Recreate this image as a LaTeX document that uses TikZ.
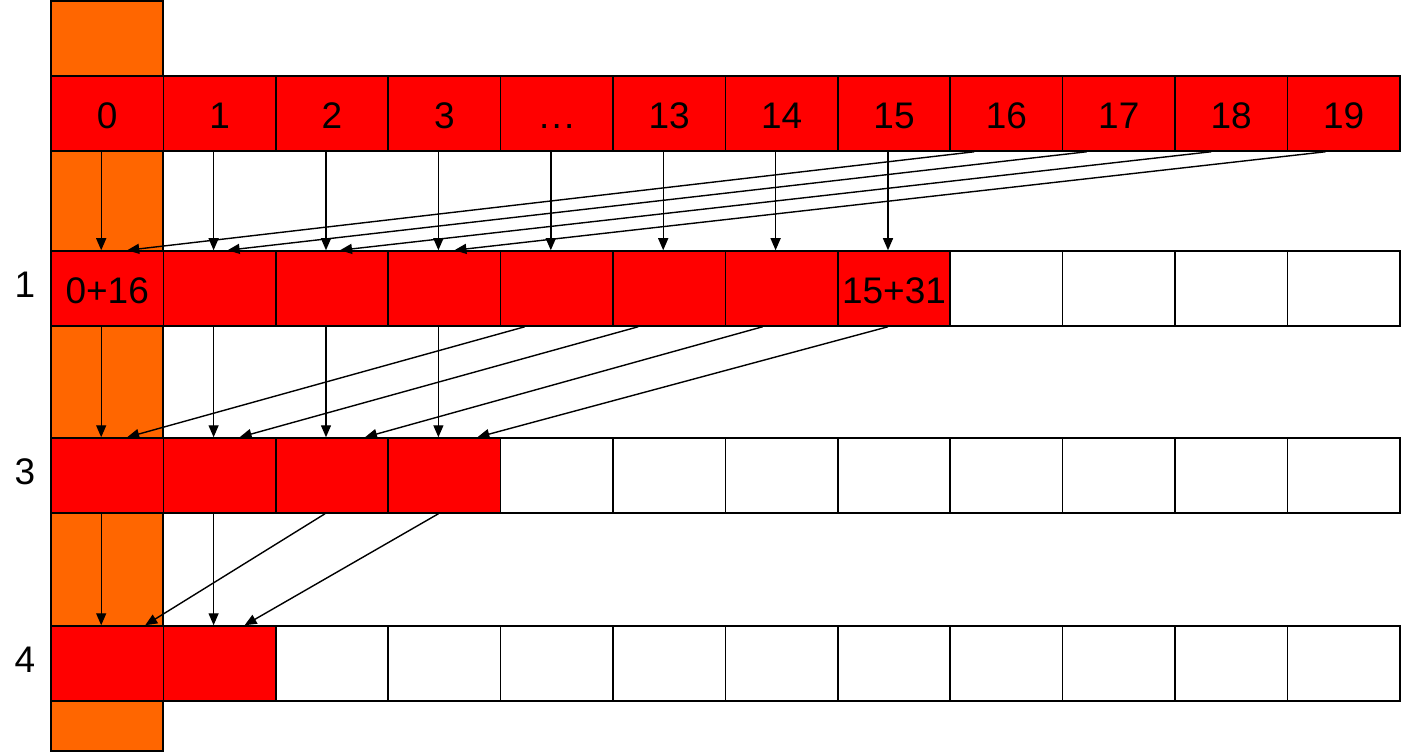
\documentclass[tikz,border=0pt]{standalone}
\usepackage{fontspec}
\setmainfont{Liberation Sans}
\usetikzlibrary{arrows.meta}
\definecolor{redc}{HTML}{FF0000}
\definecolor{orangec}{HTML}{FF6600}
\tikzset{
  cell/.style={draw=black, line width=0.75pt, minimum width=56.2pt, minimum height=37.5pt, inner sep=0pt, font=\fontsize{18.5}{20}\selectfont},
  redcell/.style={cell, fill=redc},
  whitecell/.style={cell, fill=white},
  arr/.style={draw=black, line width=0.7pt, -{Triangle[length=6pt,width=5pt]}},
  lbl/.style={font=\fontsize{18.5}{20}\selectfont, inner sep=0pt}
}
\begin{document}
\begin{tikzpicture}[x=0.5pt,y=-0.5pt]
\useasboundingbox (0,0) rectangle (1402,753);
\node[draw=black, line width=0.75pt, fill=orangec, minimum width=56pt, minimum height=375pt, inner sep=0pt] (bar) at (107,376) {};
% top row
\foreach \i/\t in {0/0,1/1,2/2,3/3,4/{.\kern0.06em.\kern0.06em.},5/13,6/14,7/15,8/16,9/17,10/18,11/19}{
  \node[redcell] (t\i) at ({51+112.4*(\i+0.5)},113.5) {};
  \node[lbl] (tl\i) at ([yshift=-1.2pt]t\i.center) {\vphantom{0}\t};
}
% row 1
\foreach \i in {0,...,11}{
  \ifnum\i<8
    \node[redcell] (a\i) at ({51+112.4*(\i+0.5)},288.5) {};
  \else
    \node[whitecell] (a\i) at ({51+112.4*(\i+0.5)},288.5) {};
  \fi
}
\node[lbl] (a0l) at ([yshift=-1.2pt]a0.center) {0+16};
\node[lbl] (a7l) at ([yshift=-1.2pt]a7.center) {15+31};
% row 3
\foreach \i in {0,...,11}{
  \ifnum\i<4
    \node[redcell] (b\i) at ({51+112.4*(\i+0.5)},475.5) {};
  \else
    \node[whitecell] (b\i) at ({51+112.4*(\i+0.5)},475.5) {};
  \fi
}
% row 4
\foreach \i in {0,...,11}{
  \ifnum\i<2
    \node[redcell] (c\i) at ({51+112.4*(\i+0.5)},663.5) {};
  \else
    \node[whitecell] (c\i) at ({51+112.4*(\i+0.5)},663.5) {};
  \fi
}
% left labels
\node[lbl] (l1) at (25,285) {1};
\node[lbl] (l3) at (25,472) {3};
\node[lbl] (l4) at (25,660) {4};
% top -> row1 vertical
\foreach \i in {0,...,7}{
  \draw[arr] ([xshift=-3pt]t\i.south) -- ([xshift=-3pt]a\i.north);
}
% top -> row1 diagonal
\draw[arr] ([xshift=-16pt]t8.south) -- ([xshift=10pt]a0.north);
\draw[arr] ([xshift=-16pt]t9.south) -- ([xshift=4pt]a1.north);
\draw[arr] ([xshift=-10pt]t10.south) -- ([xshift=4pt]a2.north);
\draw[arr] ([xshift=-9pt]t11.south) -- ([xshift=5pt]a3.north);
% row1 -> row3 vertical
\foreach \i in {0,...,3}{
  \draw[arr] ([xshift=-3pt]a\i.south) -- ([xshift=-3pt]b\i.north);
}
% row1 -> row3 diagonal
\draw[arr] ([xshift=-16pt]a4.south) -- ([xshift=10pt]b0.north);
\draw[arr] ([xshift=-15.5pt]a5.south) -- ([xshift=10pt]b1.north);
\draw[arr] ([xshift=-9.5pt]a6.south) -- ([xshift=16.5pt]b2.north);
\draw[arr] ([xshift=-3pt]a7.south) -- ([xshift=16.5pt]b3.north);
% row3 -> row4 vertical
\foreach \i in {0,1}{
  \draw[arr] ([xshift=-3pt]b\i.south) -- ([xshift=-3pt]c\i.north);
}
% row3 -> row4 diagonal
\draw[arr] ([xshift=-3.5pt]b2.south) -- ([xshift=19pt]c0.north);
\draw[arr] ([xshift=-3pt]b3.south) -- ([xshift=12.5pt]c1.north);
\end{tikzpicture}
\end{document}
